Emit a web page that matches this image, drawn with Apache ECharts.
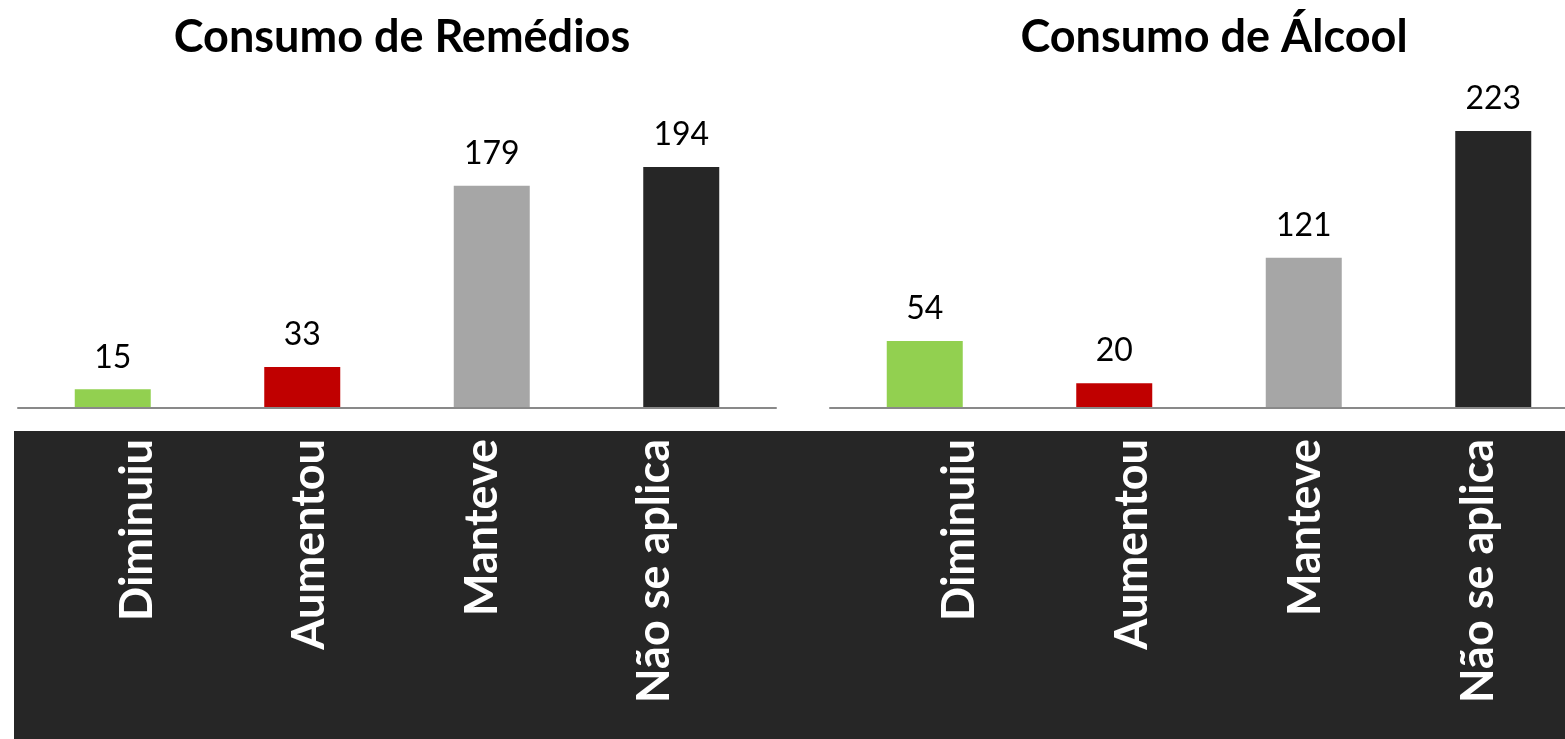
<!DOCTYPE html>
<html>
<head>
<meta charset="utf-8">
<script src="https://cdn.jsdelivr.net/npm/echarts@6/dist/echarts.min.js"></script>
<style>
  html, body { margin: 0; padding: 0; background: #fff; }
  #chart { width: 1565px; height: 739px; }
</style>
</head>
<body>
<div id="chart"></div>
<script>
// dados
const categorias = ["Diminuiu", "Aumentou", "Manteve", "Não se aplica"];
const remedios = [15, 33, 179, 194];
const alcool = [54, 20, 121, 223];
const titulos = ["Consumo de Remédios", "Consumo de Álcool"];
const coresBarras = ["#92D050", "#C00000", "#A6A6A6", "#262626"];

const myChart = echarts.init(document.getElementById("chart"));

// grids: 0/1 = barras, 2/3 = rótulos das categorias
const baseBottom = 331;
const gridTop = 97.5;

function barSeries(idx, data) {
  return {
    type: "bar",
    xAxisIndex: idx,
    yAxisIndex: idx,
    data: data,
    barWidth: 76,
    itemStyle: {
      color: (p) => coresBarras[p.dataIndex],
    },
    label: {
      show: true,
      position: "top",
      distance: 16,
      color: "#000",
      fontFamily: "Lato",
      fontSize: 32,
    },
    z: 1,
  };
}

function barAxis(gridIndex) {
  return {
    type: "category",
    gridIndex: gridIndex,
    data: categorias,
    axisLine: { show: true, lineStyle: { color: "#898989", width: 2 } },
    axisTick: { show: false },
    axisLabel: { show: false },
    z: 5,
  };
}

function labelAxis(gridIndex) {
  return {
    type: "category",
    gridIndex: gridIndex,
    data: categorias,
    axisLine: { show: false },
    axisTick: { show: false },
    axisLabel: {
      show: true,
      rotate: 90,
      margin: 31,
      color: "#fff",
      fontFamily: "Lato",
      fontWeight: "bold",
      fontSize: 45,
      interval: 0,
    },
  };
}

function valueAxis(gridIndex) {
  return {
    type: "value",
    gridIndex: gridIndex,
    min: 0,
    max: 250,
    show: false,
    splitLine: { show: false },
  };
}

let option = {
  animation: false,
  title: [
    {
      text: titulos[0],
      left: 397,
      top: 10,
      textAlign: "center",
      textStyle: { fontFamily: "Lato", fontWeight: "bold", fontSize: 45, color: "#000" },
    },
    {
      text: titulos[1],
      left: 1209,
      top: 10,
      textAlign: "center",
      textStyle: { fontFamily: "Lato", fontWeight: "bold", fontSize: 45, color: "#000" },
    },
  ],
  graphic: [
    {
      type: "rect",
      z: -10,
      shape: { x: 14, y: 431, width: 1551, height: 308 },
      style: { fill: "#262626" },
    },
  ],
  grid: [
    { left: 18, width: 758, top: gridTop, bottom: baseBottom, outerBoundsMode: "none" },
    { left: 830, width: 758, top: gridTop, bottom: baseBottom, outerBoundsMode: "none" },
    { left: 51, width: 690, top: gridTop, bottom: baseBottom, outerBoundsMode: "none" },
    { left: 873, width: 692, top: gridTop, bottom: baseBottom, outerBoundsMode: "none" },
  ],
  xAxis: [barAxis(0), barAxis(1), labelAxis(2), labelAxis(3)],
  yAxis: [valueAxis(0), valueAxis(1), valueAxis(2), valueAxis(3)],
  series: [barSeries(0, remedios), barSeries(1, alcool)],
};

myChart.setOption(option);
</script>
</body>
</html>
